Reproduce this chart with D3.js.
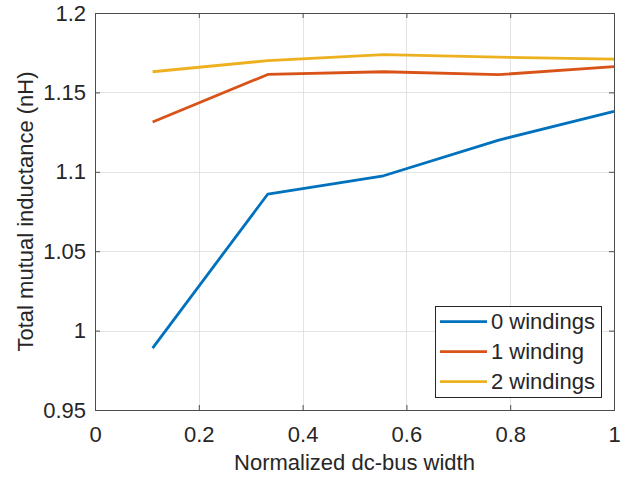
<!DOCTYPE html>
<html>
<head>
<meta charset="utf-8">
<script src="https://cdn.jsdelivr.net/npm/d3@7"></script>
<style>
  body { margin: 0; background: #fff; }
  svg { display: block; }
  text { font-family: "Liberation Sans", Arial, Helvetica, sans-serif; fill: #262626; }
</style>
</head>
<body>
<svg id="chart" width="633" height="481"></svg>
<script>
/** Chart data */
var xValues = [0.111, 0.333, 0.556, 0.778, 1.0];

var seriesNames = ['0 windings', '1 winding', '2 windings'];
var seriesColors = ['#0072BD', '#D95319', '#EDB120'];

var zeroWindings = [0.989, 1.086, 1.0975, 1.120, 1.138],
    oneWinding = [1.1314, 1.1613, 1.1630, 1.1612, 1.1662],
    twoWindings = [1.1630, 1.1700, 1.1738, 1.1722, 1.1710];

var xTicks = [0, 0.2, 0.4, 0.6, 0.8, 1],
    yTicks = [0.95, 1, 1.05, 1.1, 1.15, 1.2];
var xTickLabels = ['0', '0.2', '0.4', '0.6', '0.8', '1'],
    yTickLabels = ['0.95', '1', '1.05', '1.1', '1.15', '1.2'];

var xLabel = 'Normalized dc-bus width',
    yLabel = 'Total mutual inductance (nH)';

/** Layout (plot box edges, px) */
var plotLeft = 95, plotRight = 614, plotTop = 13, plotBottom = 410;
var fontSize = 22;

var svg = d3.select('#chart');

var x = d3.scaleLinear().domain([0, 1]).range([plotLeft, plotRight]);
var y = d3.scaleLinear().domain([0.95, 1.2]).range([plotBottom, plotTop]);

// grid lines
var grid = svg.append('g').attr('stroke', '#e3e3e3').attr('stroke-width', 1);
grid.selectAll('.gx').data(xTicks).enter().append('line')
    .attr('x1', function (d) { return Math.round(x(d)) + 0.5; })
    .attr('x2', function (d) { return Math.round(x(d)) + 0.5; })
    .attr('y1', plotTop).attr('y2', plotBottom);
grid.selectAll('.gy').data(yTicks).enter().append('line')
    .attr('y1', function (d) { return Math.round(y(d)) + 0.5; })
    .attr('y2', function (d) { return Math.round(y(d)) + 0.5; })
    .attr('x1', plotLeft).attr('x2', plotRight);

// axes (ticks pointing inwards, matlab style)
function styleAxis(g) {
    g.select('.domain').remove();
    g.selectAll('.tick line').attr('stroke', '#4d4d4d');
    g.selectAll('text').attr('font-size', fontSize).attr('fill', '#262626')
        .style('font-family', '"Liberation Sans", Arial, Helvetica, sans-serif');
}

svg.append('g').attr('transform', 'translate(0,' + plotBottom + ')')
    .call(d3.axisBottom(x).tickValues(xTicks)
        .tickFormat(function (d, i) { return xTickLabels[i]; })
        .tickSizeInner(-5).tickSizeOuter(0).tickPadding(16))
    .call(styleAxis);

svg.append('g').attr('transform', 'translate(0,' + plotTop + ')')
    .call(d3.axisTop(x).tickValues(xTicks).tickFormat('')
        .tickSizeInner(-5).tickSizeOuter(0))
    .call(styleAxis);

svg.append('g').attr('transform', 'translate(' + plotLeft + ',0)')
    .call(d3.axisLeft(y).tickValues(yTicks)
        .tickFormat(function (d, i) { return yTickLabels[i]; })
        .tickSizeInner(-5).tickSizeOuter(0).tickPadding(9))
    .call(styleAxis);

svg.append('g').attr('transform', 'translate(' + plotRight + ',0)')
    .call(d3.axisRight(y).tickValues(yTicks).tickFormat('')
        .tickSizeInner(-5).tickSizeOuter(0))
    .call(styleAxis);

// box
svg.append('rect')
    .attr('x', plotLeft + 0.5).attr('y', plotTop + 0.5)
    .attr('width', plotRight - plotLeft).attr('height', plotBottom - plotTop)
    .attr('fill', 'none').attr('stroke', '#4d4d4d').attr('stroke-width', 1);

// lines
var allSeries = [zeroWindings, oneWinding, twoWindings];
var line = d3.line()
    .x(function (d, i) { return x(xValues[i]); })
    .y(function (d) { return y(d); });

svg.append('g').selectAll('path').data(allSeries).enter().append('path')
    .attr('d', line)
    .attr('fill', 'none')
    .attr('stroke', function (d, i) { return seriesColors[i]; })
    .attr('stroke-width', 2.8)
    .attr('stroke-linejoin', 'round');

// axis labels
svg.append('text')
    .attr('x', (plotLeft + plotRight) / 2).attr('y', 470)
    .attr('text-anchor', 'middle').attr('font-size', fontSize)
    .text(xLabel);

svg.append('text')
    .attr('transform', 'translate(33,' + (plotTop + plotBottom) / 2 + ') rotate(-90)')
    .attr('text-anchor', 'middle').attr('font-size', fontSize)
    .text(yLabel);

// legend
var legend = svg.append('g');
legend.append('rect')
    .attr('x', 435.5).attr('y', 306.5).attr('width', 166).attr('height', 91)
    .attr('fill', '#fff').attr('stroke', '#262626').attr('stroke-width', 1);

var rows = legend.selectAll('.row').data(seriesNames).enter().append('g')
    .attr('transform', function (d, i) { return 'translate(0,' + (321.7 + i * 30) + ')'; });
rows.append('line')
    .attr('x1', 440).attr('x2', 487).attr('y1', 0).attr('y2', 0)
    .attr('stroke', function (d, i) { return seriesColors[i]; })
    .attr('stroke-width', 2.8);
rows.append('text')
    .attr('x', 491).attr('dy', '0.35em').attr('font-size', fontSize)
    .text(function (d) { return d; });
</script>
</body>
</html>
